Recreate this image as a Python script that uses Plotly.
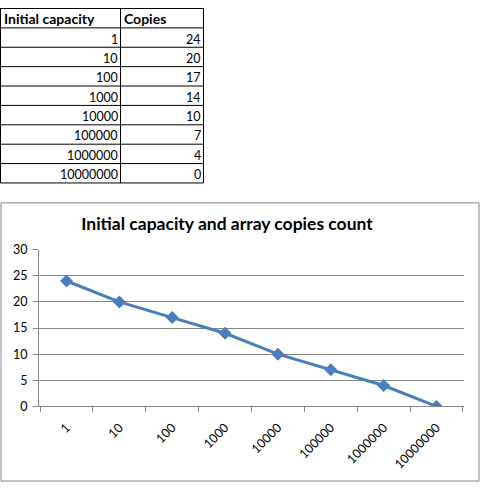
import plotly.graph_objects as go

capacity = ["1", "10", "100", "1000", "10000", "100000", "1000000", "10000000"]
copies = [24, 20, 17, 14, 10, 7, 4, 0]
col_names = ["Initial capacity", "Copies"]

W, H = 480, 489
BLUE = "#4A7EBB"
GRID = "#868686"
FONT = "Lato"

# worksheet grid geometry (pixels)
COL_X = [0.5, 120.5, 203.5]
ROW_H = 20


def px(x):
    return x / W


def py(y):
    return 1 - y / H


shapes = []
annotations = []

# table grid lines
n_rows = len(capacity) + 1
for i in range(n_rows + 1):
    y = i * ROW_H + 0.5
    shapes.append(dict(type="line", xref="paper", yref="paper",
                       x0=px(COL_X[0]), x1=px(COL_X[-1]), y0=py(y), y1=py(y),
                       line=dict(color="black", width=1)))
for x in COL_X:
    shapes.append(dict(type="line", xref="paper", yref="paper",
                       x0=px(x), x1=px(x), y0=py(0), y1=py(n_rows * ROW_H + 0.5),
                       line=dict(color="black", width=1)))

# header text
for j, name in enumerate(col_names):
    annotations.append(dict(text="<b>%s</b>" % name, xref="paper", yref="paper",
                            x=px(COL_X[j] + 1), y=py(ROW_H / 2 + 1),
                            xanchor="left", yanchor="middle", showarrow=False,
                            font=dict(family=FONT, size=14, color="black")))

# cell values
for i, (cap, cp) in enumerate(zip(capacity, copies)):
    yc = py((i + 1) * ROW_H + ROW_H / 2 + 2)
    for j, val in enumerate([cap, str(cp)]):
        annotations.append(dict(text=val, xref="paper", yref="paper",
                                x=px(COL_X[j + 1] - 1), y=yc,
                                xanchor="right", yanchor="middle", showarrow=False,
                                font=dict(family=FONT, size=12.5, color="black")))

# chart border
shapes.append(dict(type="rect", xref="paper", yref="paper",
                   x0=px(1), x1=px(479), y0=py(488), y1=py(201),
                   line=dict(color=GRID, width=1)))

fig = go.Figure()

fig.add_trace(go.Scatter(
    x=capacity, y=copies, mode="lines+markers",
    line=dict(color=BLUE, width=3),
    marker=dict(symbol="diamond", size=10, color=BLUE),
    showlegend=False,
))

fig.update_layout(
    width=W, height=H,
    margin=dict(l=0, r=0, t=0, b=0),
    paper_bgcolor="white", plot_bgcolor="white",
    font=dict(family=FONT, size=12, color="black"),
    title=dict(text="<b>Initial capacity and array copies count</b>",
               x=px(227), y=py(224), xanchor="center", yanchor="middle",
               font=dict(family=FONT, size=17.5, color="black")),
    xaxis=dict(domain=[px(39), px(464)], type="category",
               showline=True, linecolor=GRID, linewidth=1,
               ticks="outside", ticklen=5, tickcolor=GRID,
               tickson="boundaries", tickangle=-45, ticklabelstandoff=8,
               showgrid=False, tickfont=dict(size=12.5)),
    yaxis=dict(domain=[py(411), py(249.3)], range=[0, 30], dtick=5,
               showline=True, linecolor=GRID, linewidth=1,
               ticks="outside", ticklen=5, tickcolor=GRID, ticklabelstandoff=3,
               showgrid=True, gridcolor=GRID, gridwidth=1,
               zeroline=False, tickfont=dict(size=12.5)),
    shapes=shapes,
    annotations=annotations,
)

# drop the browser's default body margin so the figure sits at (0, 0)
fig.write_html("out.html", config={"displayModeBar": False},
               post_script="document.body.style.margin='0';")
